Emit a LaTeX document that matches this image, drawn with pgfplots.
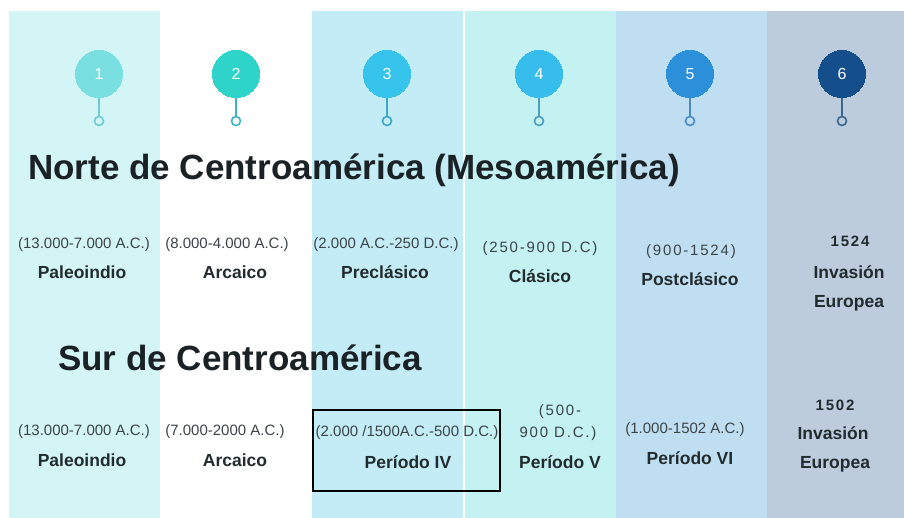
\documentclass[border=0pt]{standalone}
\usepackage{pgfplots}
\pgfplotsset{compat=1.18}
\usepackage{fontspec}
\setmainfont{Liberation Sans}
\newfontfamily\spacedfont[LetterSpace=12]{Liberation Sans}
\definecolor{c1}{HTML}{D4F5F6}
\definecolor{c2}{HTML}{FFFFFF}
\definecolor{c3}{HTML}{C3ECF6}
\definecolor{c4}{HTML}{C4F1F2}
\definecolor{c5}{HTML}{C0DEF1}
\definecolor{c6}{HTML}{BCCCDC}
\definecolor{k1}{HTML}{7ADFE0}
\definecolor{k2}{HTML}{2ED3C9}
\definecolor{k3}{HTML}{36C4EC}
\definecolor{k4}{HTML}{36BDEB}
\definecolor{k5}{HTML}{2B8FD9}
\definecolor{k6}{HTML}{144F8B}
\definecolor{s1}{HTML}{6CCBD3}
\definecolor{s2}{HTML}{3BB5C2}
\definecolor{s3}{HTML}{3BA7C9}
\definecolor{s4}{HTML}{4B9EC4}
\definecolor{s5}{HTML}{4A8CC0}
\definecolor{s6}{HTML}{3A6790}
\definecolor{headc}{HTML}{1B2226}
\definecolor{namec}{HTML}{222B2D}
\definecolor{datec}{HTML}{3C4447}
\newcommand\headfont{\fontsize{35}{40}\selectfont\bfseries}
\newcommand\namefont{\fontsize{17.5}{20}\selectfont\bfseries}
\newcommand\datefont{\fontsize{15}{18}\selectfont}
\newcommand\sdatefont{\fontsize{15}{18}\selectfont\spacedfont}
\newcommand\sboldfont{\fontsize{15}{18}\selectfont\spacedfont\bfseries}
\newcommand\nm[3]{\node[anchor=base,text=namec,font=\namefont,inner sep=0pt] at (axis cs:#1,#2) {#3};}
\newcommand\dt[3]{\node[anchor=base,text=datec,font=\datefont,inner sep=0pt] at (axis cs:#1,#2) {#3};}
\newcommand\sdt[3]{\node[anchor=base,text=datec,font=\sdatefont,inner sep=0pt] at (axis cs:#1,#2) {#3};}
\newcommand\sbd[3]{\node[anchor=base,text=namec,font=\sboldfont,inner sep=0pt] at (axis cs:#1,#2) {#3};}
\newcommand\pin[5]{%
  \addplot[draw=#3,line width=2pt] coordinates {(#1,96) (#1,116)};
  \addplot[only marks,mark=*,mark size=4.5pt,mark options={draw=#3,fill=#4,line width=1.6pt}] coordinates {(#1,121)};
  \addplot[only marks,color=#2,mark=*,mark size=23.5pt,mark options={draw=#2,fill=#2,line width=0pt},
    nodes near coords={#5},
    every node near coord/.style={anchor=center,text=white,font=\fontsize{16}{18}\selectfont}] coordinates {(#1,74)};
}
\begin{document}
\begin{tikzpicture}
\begin{axis}[scale only axis,width=904pt,height=518pt,
  xmin=0,xmax=904,ymin=0,ymax=518,y dir=reverse,hide axis,clip=true]
% background and column bands
\addplot[fill=white,draw=none] coordinates {(0,0)(904,0)(904,518)(0,518)} --cycle;
\addplot[fill=c1,draw=none] coordinates {(9,11)(160,11)(160,518)(9,518)} --cycle;
\addplot[fill=c2,draw=none] coordinates {(160,11)(312,11)(312,518)(160,518)} --cycle;
\addplot[fill=c3,draw=none] coordinates {(312,11)(463,11)(463,518)(312,518)} --cycle;
\addplot[fill=c4,draw=none] coordinates {(465,11)(616,11)(616,518)(465,518)} --cycle;
\addplot[fill=c5,draw=none] coordinates {(616,11)(767,11)(767,518)(616,518)} --cycle;
\addplot[fill=c6,draw=none] coordinates {(767,11)(904,11)(904,518)(767,518)} --cycle;
% pins
\pin{99}{k1}{s1}{c1}{1}
\pin{236}{k2}{s2}{c2}{2}
\pin{387}{k3}{s3}{c3}{3}
\pin{539}{k4}{s4}{c4}{4}
\pin{690}{k5}{s5}{c5}{5}
\pin{842}{k6}{s6}{c6}{6}
% headings
\node[anchor=base west,text=headc,font=\headfont,inner sep=0pt] at (axis cs:28,180) {Norte de Centroamérica (Mesoamérica)};
\node[anchor=base west,text=headc,font=\headfont,inner sep=0pt] at (axis cs:58,370) {Sur de Centroamérica};
% top rows
\dt{84}{248.5}{(13.000-7.000 A.C.)}
\dt{227}{248.5}{(8.000-4.000 A.C.)}
\dt{386}{248.5}{(2.000 A.C.-250 D.C.)}
\sdt{540}{253}{(250-900 D.C)}
\sdt{691}{256}{(900-1524)}
\sbd{850}{247}{1524}
\nm{82}{278.5}{Paleoindio}
\nm{235}{278.5}{Arcaico}
\nm{385}{278.5}{Preclásico}
\nm{540}{283}{Clásico}
\nm{690}{286}{Postclásico}
\nm{849}{279}{Invasión}
\nm{849}{308}{Europea}
% bottom rows
\dt{84}{435.5}{(13.000-7.000 A.C.)}
\dt{225}{435.5}{(7.000-2000 A.C.)}
\dt{407}{436.5}{(2.000 /1500A.C.-500 D.C.)}
\sdt{560}{415}{(500-}
\sdt{558}{437.5}{900 D.C.)}
\dt{685}{433.5}{(1.000-1502 A.C.)}
\sbd{835}{410}{1502}
\nm{82}{466}{Paleoindio}
\nm{235}{466}{Arcaico}
\nm{408}{468}{Período IV}
\nm{560}{468}{Período V}
\nm{690}{464}{Período VI}
\nm{833}{439}{Invasión}
\nm{835}{468}{Europea}
% highlight box
\addplot[draw=black,line width=2pt] coordinates {(313,410)(500,410)(500,491)(313,491)} --cycle;
\end{axis}
\pgfresetboundingbox
\useasboundingbox (current axis.south west) rectangle (current axis.north east);
\end{tikzpicture}
\end{document}
